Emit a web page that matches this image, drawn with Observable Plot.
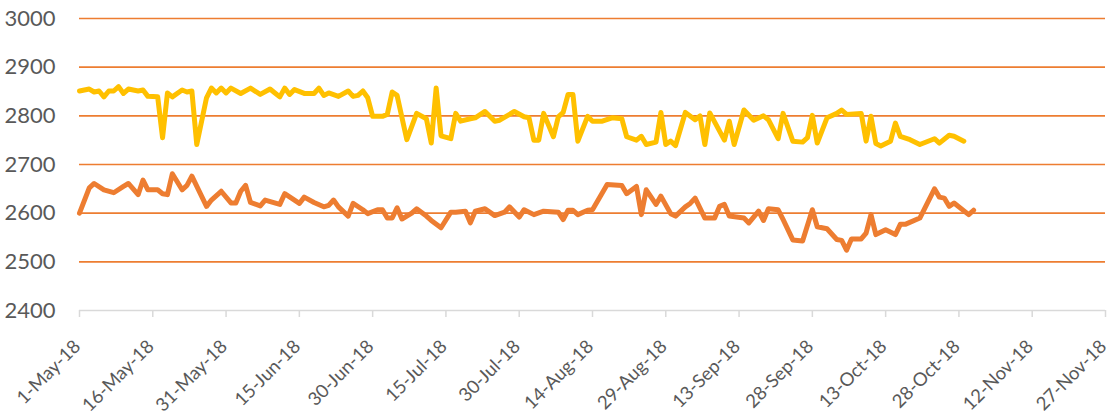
<!DOCTYPE html>
<html>
<head>
<meta charset="utf-8">
<script src="https://cdn.jsdelivr.net/npm/d3@7"></script>
<script src="https://cdn.jsdelivr.net/npm/@observablehq/plot@0.6"></script>
<style>
  html, body { margin: 0; padding: 0; background: #fff; }
  #chart svg { display: block; }
</style>
</head>
<body>
<div id="chart"></div>
<script>
// Upper (yellow) series
const yellowDates = ["2018-05-01","2018-05-03","2018-05-04","2018-05-05","2018-05-06","2018-05-07","2018-05-08","2018-05-09","2018-05-10","2018-05-11","2018-05-13","2018-05-14","2018-05-15","2018-05-17","2018-05-18","2018-05-19","2018-05-20","2018-05-22","2018-05-23","2018-05-24","2018-05-25","2018-05-27","2018-05-28","2018-05-29","2018-05-30","2018-05-31","2018-06-01","2018-06-03","2018-06-05","2018-06-07","2018-06-09","2018-06-10","2018-06-11","2018-06-12","2018-06-13","2018-06-14","2018-06-16","2018-06-18","2018-06-19","2018-06-20","2018-06-21","2018-06-23","2018-06-25","2018-06-26","2018-06-27","2018-06-28","2018-06-29","2018-06-30","2018-07-02","2018-07-03","2018-07-04","2018-07-05","2018-07-07","2018-07-09","2018-07-11","2018-07-12","2018-07-13","2018-07-14","2018-07-16","2018-07-17","2018-07-18","2018-07-20","2018-07-21","2018-07-23","2018-07-25","2018-07-26","2018-07-29","2018-07-31","2018-08-01","2018-08-02","2018-08-03","2018-08-04","2018-08-06","2018-08-07","2018-08-08","2018-08-09","2018-08-10","2018-08-11","2018-08-13","2018-08-14","2018-08-16","2018-08-18","2018-08-20","2018-08-21","2018-08-23","2018-08-24","2018-08-25","2018-08-27","2018-08-28","2018-08-29","2018-08-30","2018-08-31","2018-09-02","2018-09-04","2018-09-05","2018-09-06","2018-09-07","2018-09-10","2018-09-11","2018-09-12","2018-09-14","2018-09-16","2018-09-18","2018-09-19","2018-09-21","2018-09-22","2018-09-24","2018-09-26","2018-09-27","2018-09-28","2018-09-29","2018-10-01","2018-10-03","2018-10-04","2018-10-05","2018-10-08","2018-10-09","2018-10-10","2018-10-11","2018-10-12","2018-10-14","2018-10-15","2018-10-16","2018-10-18","2018-10-20","2018-10-23","2018-10-24","2018-10-26","2018-10-27","2018-10-29"];
const yellowValues = [2851,2855,2849,2851,2839,2851,2851,2860,2846,2855,2851,2853,2840,2839,2755,2847,2839,2853,2849,2851,2741,2837,2857,2847,2857,2847,2857,2846,2857,2844,2855,2847,2839,2857,2844,2854,2846,2846,2857,2842,2847,2840,2851,2840,2842,2851,2837,2799,2799,2803,2849,2842,2751,2805,2794,2744,2857,2759,2753,2805,2789,2794,2796,2809,2789,2791,2809,2798,2796,2750,2750,2805,2757,2798,2807,2844,2844,2748,2799,2789,2789,2796,2794,2757,2750,2758,2741,2746,2807,2741,2748,2739,2807,2792,2800,2741,2806,2750,2789,2741,2812,2791,2800,2792,2753,2805,2748,2746,2755,2801,2744,2796,2805,2812,2803,2805,2748,2799,2743,2738,2748,2785,2758,2751,2741,2753,2744,2760,2758,2748];

// Lower (orange) series
const orangeDates = ["2018-05-01","2018-05-03","2018-05-04","2018-05-06","2018-05-08","2018-05-10","2018-05-11","2018-05-13","2018-05-14","2018-05-15","2018-05-17","2018-05-18","2018-05-19","2018-05-20","2018-05-22","2018-05-23","2018-05-24","2018-05-27","2018-05-28","2018-05-30","2018-06-01","2018-06-02","2018-06-03","2018-06-04","2018-06-05","2018-06-07","2018-06-08","2018-06-11","2018-06-12","2018-06-15","2018-06-16","2018-06-18","2018-06-20","2018-06-21","2018-06-22","2018-06-23","2018-06-25","2018-06-26","2018-06-28","2018-06-29","2018-07-01","2018-07-02","2018-07-03","2018-07-04","2018-07-05","2018-07-06","2018-07-08","2018-07-09","2018-07-11","2018-07-12","2018-07-14","2018-07-16","2018-07-17","2018-07-19","2018-07-20","2018-07-21","2018-07-23","2018-07-25","2018-07-27","2018-07-28","2018-07-30","2018-07-31","2018-08-02","2018-08-04","2018-08-07","2018-08-08","2018-08-09","2018-08-10","2018-08-11","2018-08-13","2018-08-14","2018-08-17","2018-08-20","2018-08-21","2018-08-23","2018-08-24","2018-08-25","2018-08-27","2018-08-28","2018-08-30","2018-08-31","2018-09-02","2018-09-03","2018-09-04","2018-09-06","2018-09-08","2018-09-09","2018-09-10","2018-09-11","2018-09-14","2018-09-15","2018-09-17","2018-09-18","2018-09-19","2018-09-21","2018-09-22","2018-09-24","2018-09-26","2018-09-28","2018-09-29","2018-10-01","2018-10-03","2018-10-04","2018-10-05","2018-10-06","2018-10-08","2018-10-09","2018-10-10","2018-10-11","2018-10-13","2018-10-15","2018-10-16","2018-10-17","2018-10-20","2018-10-23","2018-10-24","2018-10-25","2018-10-26","2018-10-27","2018-10-30","2018-10-31"];
const orangeValues = [2600,2652,2661,2648,2642,2655,2661,2638,2668,2648,2648,2640,2638,2681,2648,2657,2676,2614,2627,2645,2621,2621,2645,2657,2622,2615,2627,2618,2640,2620,2633,2622,2613,2616,2627,2613,2594,2620,2607,2599,2607,2607,2590,2590,2611,2588,2600,2609,2594,2585,2570,2602,2602,2604,2580,2604,2609,2595,2602,2613,2592,2607,2597,2604,2602,2587,2606,2606,2597,2606,2607,2659,2657,2640,2655,2597,2648,2618,2635,2599,2594,2613,2620,2631,2590,2590,2614,2618,2594,2590,2580,2604,2585,2609,2607,2587,2545,2543,2607,2572,2568,2546,2544,2524,2547,2547,2559,2597,2556,2566,2556,2577,2577,2590,2650,2633,2631,2614,2621,2597,2606];

// Axis ticks
const xTickDates = ["2018-05-01","2018-05-16","2018-05-31","2018-06-15","2018-06-30","2018-07-15","2018-07-30","2018-08-14","2018-08-29","2018-09-13","2018-09-28","2018-10-13","2018-10-28","2018-11-12","2018-11-27"];
const yTicks = [2400, 2500, 2600, 2700, 2800, 2900, 3000];
const gridValues = [2500, 2600, 2700, 2800, 2900, 3000];

const parse = d3.utcParse("%Y-%m-%d");
const yellow = yellowDates.map((d, i) => ({date: parse(d), value: yellowValues[i]}));
const orange = orangeDates.map((d, i) => ({date: parse(d), value: orangeValues[i]}));
const xTicks = xTickDates.map(parse);

const chart = Plot.plot({
  width: 1113,
  height: 417,
  marginLeft: 79,
  marginRight: 8,
  marginTop: 18,
  marginBottom: 107,
  style: {fontFamily: "Lato, 'Open Sans', sans-serif", background: "#fff", color: "#595959"},
  x: {type: "utc", domain: [xTicks[0], xTicks[xTicks.length - 1]]},
  y: {domain: [2400, 3000]},
  marks: [
    Plot.ruleY(gridValues, {stroke: "#ED7D31", strokeWidth: 1.6}),
    Plot.ruleY([2400], {stroke: "#d9d9d9", strokeWidth: 1.5}),
    // tick marks below the axis line
    Plot.ruleX(xTicks, {y1: 2400, y2: 2400, insetBottom: -7, stroke: "#d9d9d9", strokeWidth: 1.5}),
    Plot.axisX(xTicks, {
      tickRotate: -45,
      tickFormat: d3.utcFormat("%-d-%b-%y"),
      tickSize: 0,
      tickPadding: 33,
      dx: -2,
      fill: "#595959",
      fontSize: 18.5,
      label: null
    }),
    Plot.axisY(yTicks, {tickSize: 0, tickPadding: 24, fontSize: 22, fill: "#595959", tickFormat: d3.format("d"), label: null}),
    Plot.lineY(yellow, {x: "date", y: "value", stroke: "#FFC000", strokeWidth: 5, strokeLinejoin: "round", strokeLinecap: "round"}),
    Plot.lineY(orange, {x: "date", y: "value", stroke: "#ED7D31", strokeWidth: 5, strokeLinejoin: "round", strokeLinecap: "round"})
  ]
});
document.getElementById("chart").appendChild(chart);
</script>
</body>
</html>
